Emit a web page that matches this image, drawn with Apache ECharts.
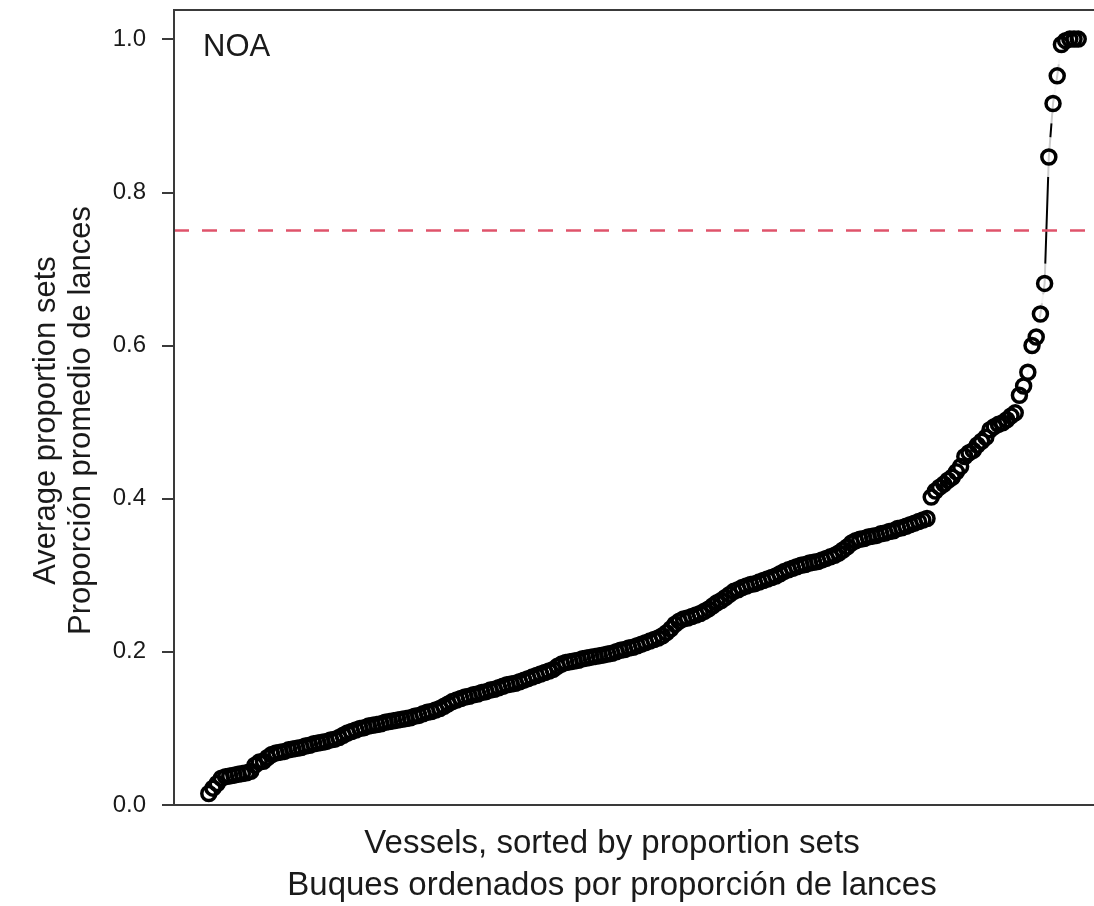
<!DOCTYPE html>
<html>
<head>
<meta charset="utf-8">
<script src="https://cdn.jsdelivr.net/npm/echarts@6/dist/echarts.min.js"></script>
<style>
  html, body { margin: 0; padding: 0; background: #fff; }
  #chart { width: 1094px; height: 906px; }
</style>
</head>
<body>
<div id="chart"></div>
<script>
// average proportion of sets per vessel, vessels sorted ascending
const proportionSets = [
  0.015, 0.022, 0.028, 0.035, 0.037, 0.038, 0.039, 0.040, 0.041, 0.042,
  0.044, 0.052, 0.056, 0.057, 0.062, 0.066, 0.068, 0.069, 0.070, 0.072,
  0.073, 0.074, 0.075, 0.077, 0.078, 0.080, 0.081, 0.082, 0.083, 0.085,
  0.086, 0.088, 0.091, 0.094, 0.096, 0.098, 0.100, 0.101, 0.103, 0.104,
  0.105, 0.106, 0.108, 0.109, 0.110, 0.111, 0.112, 0.113, 0.114, 0.116,
  0.117, 0.119, 0.121, 0.122, 0.124, 0.126, 0.129, 0.132, 0.135, 0.137,
  0.139, 0.141, 0.142, 0.144, 0.145, 0.147, 0.148, 0.150, 0.151, 0.153,
  0.155, 0.157, 0.158, 0.159, 0.161, 0.163, 0.165, 0.167, 0.169, 0.171,
  0.173, 0.175, 0.177, 0.181, 0.184, 0.186, 0.187, 0.188, 0.189, 0.191,
  0.192, 0.193, 0.194, 0.195, 0.196, 0.197, 0.198, 0.200, 0.202, 0.203,
  0.205, 0.206, 0.208, 0.210, 0.212, 0.214, 0.216, 0.218, 0.221, 0.225,
  0.230, 0.236, 0.240, 0.243, 0.244, 0.246, 0.248, 0.250, 0.253, 0.256,
  0.260, 0.264, 0.267, 0.271, 0.275, 0.279, 0.281, 0.284, 0.286, 0.288,
  0.289, 0.291, 0.293, 0.295, 0.297, 0.299, 0.302, 0.305, 0.307, 0.309,
  0.311, 0.313, 0.314, 0.316, 0.317, 0.318, 0.320, 0.322, 0.324, 0.326,
  0.329, 0.333, 0.337, 0.342, 0.345, 0.347, 0.348, 0.350, 0.351, 0.352,
  0.354, 0.355, 0.357, 0.358, 0.361, 0.362, 0.364, 0.366, 0.368, 0.370,
  0.372, 0.374, 0.402, 0.410, 0.415, 0.419, 0.424, 0.428, 0.435, 0.442,
  0.455, 0.460, 0.463, 0.470, 0.475, 0.480, 0.490, 0.494, 0.497, 0.499,
  0.503, 0.508, 0.512, 0.535, 0.547, 0.565, 0.600, 0.611, 0.641, 0.681,
  0.846, 0.916, 0.952, 0.993, 0.998, 1.000, 1.000, 1.000
]
const yTicks = [0, 0.2, 0.4, 0.6, 0.8, 1.0]
const thresholdValue = 0.75
const panelLabel = 'NOA'
const xTitle = ['Vessels, sorted by proportion sets', 'Buques ordenados por proporción de lances']
const yTitle = ['Average proportion sets', 'Proporción promedio de lances']

const fontFamily = '"Liberation Sans", Arial, sans-serif'
const textColor = '#1a1a1a'
const boxColor = '#3a3a3a'

let chartInstance = null

const initChart = () => {
  chartInstance = echarts.init(document.getElementById('chart'), null, { renderer: 'canvas' })
  // rank on x, like R's plot(sort(x))
  const points = proportionSets.map((v, i) => [i + 1, v])
  const n = proportionSets.length
  // R pads the x range by 4% on each side
  const pad = 0.04 * (n - 1)

  const option = {
    animation: false,
    backgroundColor: '#fff',
    grid: {
      left: 174,
      top: 10,
      width: 939,
      height: 795,
      // the plot box runs past the right edge of the picture
      outerBoundsMode: 'none',
      show: true,
      borderColor: boxColor,
      borderWidth: 2,
    },
    xAxis: {
      type: 'value',
      min: 1 - pad,
      max: n + pad,
      z: 10,
      axisLine: { show: true, onZero: false, lineStyle: { color: boxColor, width: 2 } },
      axisTick: { show: false },
      axisLabel: { show: false },
      splitLine: { show: false },
      name: xTitle.join('\n'),
      nameLocation: 'middle',
      nameGap: 18,
      nameTextStyle: {
        fontFamily: fontFamily,
        fontSize: 33,
        color: textColor,
        lineHeight: 42,
        verticalAlign: 'top',
        // title sits a bit left of the box centre
        padding: [0, 63, 0, 0],
      },
    },
    yAxis: {
      type: 'value',
      min: 0,
      max: 1.038,
      z: 10,
      axisLine: { show: true, onZero: false, lineStyle: { color: boxColor, width: 2 } },
      axisTick: {
        show: true,
        length: 12,
        customValues: yTicks,
        lineStyle: { color: boxColor, width: 2 },
      },
      axisLabel: {
        customValues: yTicks,
        margin: 28,
        fontFamily: fontFamily,
        fontSize: 24,
        color: textColor,
        formatter: (v) => v.toFixed(1),
      },
      splitLine: { show: false },
      name: yTitle.join('\n'),
      nameLocation: 'middle',
      nameGap: 75,
      nameTextStyle: {
        fontFamily: fontFamily,
        fontSize: 31,
        color: textColor,
        lineHeight: 35,
        padding: [0, 26, 0, 0],
      },
    },
    graphic: [
      {
        type: 'text',
        left: 203,
        top: 32,
        style: {
          text: panelLabel,
          fontFamily: fontFamily,
          fontSize: 31,
          fill: textColor,
        },
      },
    ],
    series: [
      {
        // connecting line (type = "b")
        name: 'line',
        type: 'line',
        data: points,
        symbol: 'none',
        z: 1,
        lineStyle: { color: '#000', width: 2 },
        markLine: {
          silent: true,
          symbol: 'none',
          label: { show: false },
          lineStyle: { color: '#DF536B', width: 2.5, type: [15, 13] },
          data: [{ yAxis: thresholdValue }],
        },
      },
      {
        // white gaps around points, hides the line near each circle
        name: 'gap',
        type: 'scatter',
        data: points,
        symbol: 'circle',
        symbolSize: 40,
        z: 2,
        silent: true,
        itemStyle: { color: '#fff' },
      },
      {
        name: 'vessels',
        type: 'scatter',
        data: points,
        symbol: 'circle',
        symbolSize: 14,
        z: 3,
        itemStyle: {
          color: 'rgba(0,0,0,0)',
          borderColor: '#000',
          borderWidth: 3.5,
          opacity: 1,
        },
      },
    ],
  }
  chartInstance.setOption(option)
}

initChart()
</script>
</body>
</html>
